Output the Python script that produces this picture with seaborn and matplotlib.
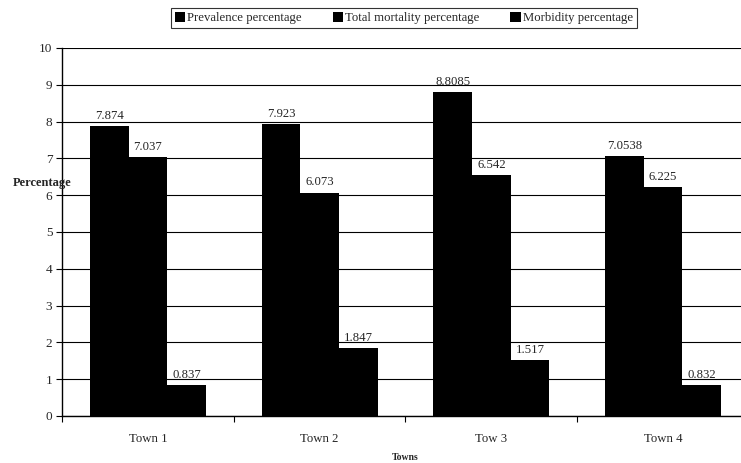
import matplotlib
matplotlib.use("Agg")
import matplotlib.pyplot as plt
import seaborn as sns
import pandas as pd

towns = ["Town 1", "Town 2", "Tow 3", "Town 4"]
series_names = ["Prevalence percentage", "Total mortality percentage", "Morbidity percentage"]
prevalence = [7.874, 7.923, 8.8085, 7.0538]
total_mortality = [7.037, 6.073, 6.542, 6.225]
morbidity = [0.837, 1.847, 1.517, 0.832]
y_ticks = list(range(0, 11))

rows = []
for name, vals in zip(series_names, [prevalence, total_mortality, morbidity]):
    for t, v in zip(towns, vals):
        rows.append({"Town": t, "Series": name, "Value": v})
df = pd.DataFrame(rows)

sns.set_style("white")
plt.rcParams["font.family"] = ["Liberation Serif", "DejaVu Serif"]

W, H = 741, 463
fig = plt.figure(figsize=(W / 100, H / 100), dpi=100)
ax = fig.add_axes([62 / W, (H - 416) / H, (749 - 62) / W, (416 - 48) / H])

sns.barplot(data=df, x="Town", y="Value", hue="Series", order=towns,
            hue_order=series_names, palette=["black"] * 3, width=0.674,
            linewidth=0, saturation=1, ax=ax, zorder=3)

for c in ax.containers:
    ax.bar_label(c, fmt="%g", padding=3, fontsize=9.2)

ax.set_ylim(0, 10)
ax.set_xlim(-0.5, 3.5)
ax.set_yticks(y_ticks)
ax.yaxis.grid(True, color="black", linewidth=0.8, zorder=0)
ax.xaxis.grid(False)
ax.set_axisbelow(True)

ax.set_xticks([-0.5, 0.5, 1.5, 2.5])
ax.set_xticklabels([])
ax.set_xticks(range(len(towns)), minor=True)
ax.set_xticklabels(towns, minor=True, fontsize=9.2)
ax.tick_params(axis="x", which="major", direction="out", length=4, width=0.8, color="black", bottom=True)
ax.tick_params(axis="x", which="minor", length=0, pad=12)
ax.tick_params(axis="y", direction="out", length=4, width=0.8, color="black", left=True, labelsize=9.5, pad=3)

for s in ["top", "right"]:
    ax.spines[s].set_visible(False)
for s in ["left", "bottom"]:
    ax.spines[s].set_color("black")
    ax.spines[s].set_linewidth(1.0)

ax.set_xlabel("Towns", fontsize=7, fontweight="bold", labelpad=6)
ax.set_ylabel("")
fig.text(42 / W, 1 - 183 / H, "Percentage", fontsize=9, fontweight="bold", ha="center", va="center")

ax.legend_.remove()
handles, labels = ax.get_legend_handles_labels()
leg = fig.legend(handles[:3], labels[:3], loc="center", bbox_to_anchor=(404 / W, 1 - 18 / H),
                 ncol=3, frameon=True, fancybox=False, fontsize=9.2, handlelength=0.8,
                 handleheight=0.8, handletextpad=0.2, columnspacing=2.4, borderpad=0.3)
leg.get_frame().set_edgecolor("black")
leg.get_frame().set_linewidth(0.8)

fig.savefig("out.png", dpi=100)
